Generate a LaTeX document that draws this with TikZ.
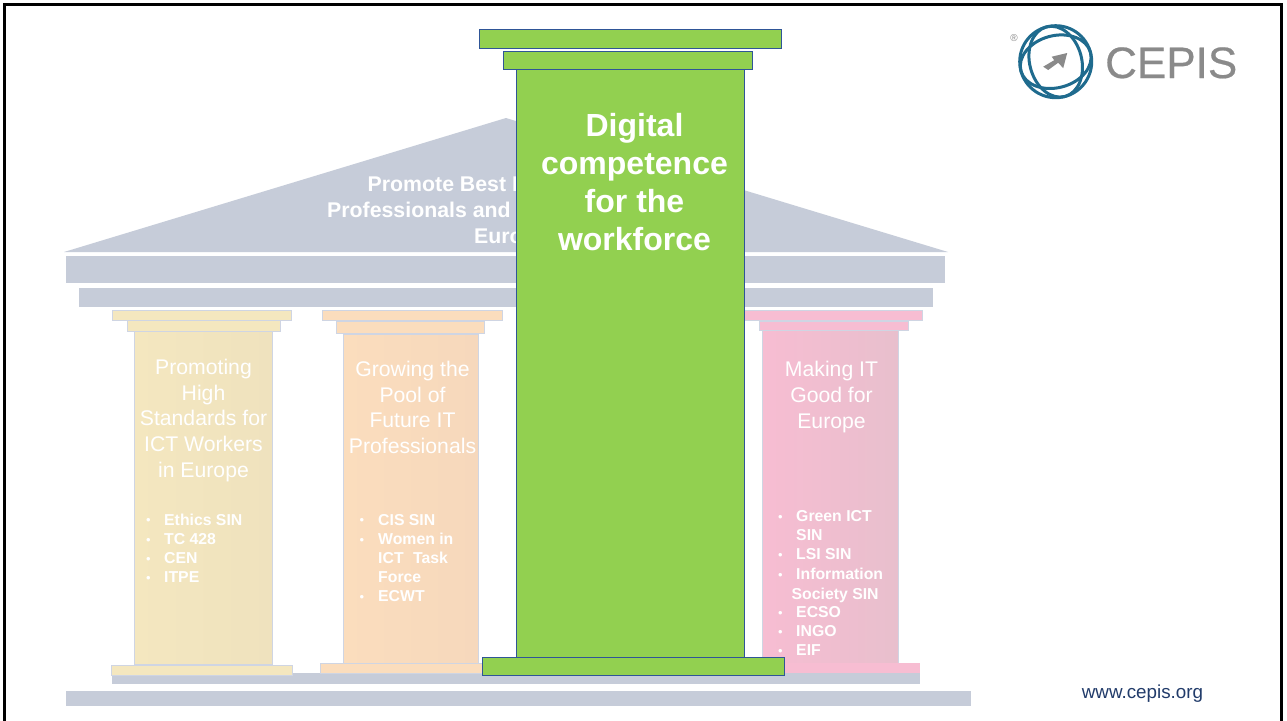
\documentclass[tikz,border=0pt]{standalone}
\usepackage{fontspec}
\setmainfont{Liberation Sans}
\newfontfamily\logofont[FakeBold=0.5]{Liberation Sans}
\definecolor{roofgray}{HTML}{C6CCD9}
\definecolor{edgeblue}{HTML}{CFD5E3}
\definecolor{leaf}{HTML}{92D050}
\definecolor{leafedge}{HTML}{2F5597}
\definecolor{globe}{HTML}{1F6B8E}
\definecolor{logogray}{HTML}{8A8A8A}
\definecolor{yelc}{HTML}{F4E7BF}
\definecolor{yeld}{HTML}{EFE2BE}
\definecolor{orc}{HTML}{FBDDBD}
\definecolor{ord}{HTML}{F6D8BC}
\definecolor{pkc}{HTML}{F7BDD2}
\definecolor{pkd}{HTML}{E8BFCD}
\tikzset{
  x=1pt,y=-1pt,
  roofpart/.style={fill=roofgray,draw=none},
  yelpart/.style={fill=yelc,draw=edgeblue,line width=1pt},
  orpart/.style={fill=orc,draw=edgeblue,line width=1pt},
  pkpart/.style={fill=pkc,draw=edgeblue,line width=1pt},
  greenpart/.style={fill=leaf,draw=leafedge,line width=1pt},
  ptitle/.style={text=white,align=center,font=\fontsize{21.2}{25.6}\selectfont,inner sep=0pt},
  plist/.style={text=white,align=left,anchor=north west,font=\fontsize{15.8}{19.1}\selectfont\bfseries,inner sep=0pt},
  rooftext/.style={text=white,font=\fontsize{21.3}{26}\selectfont\bfseries,inner sep=0pt},
  bullet/.style={text=white,font=\fontsize{13}{13}\selectfont,inner sep=0pt},
}
\begin{document}
\begin{tikzpicture}
\useasboundingbox (0,0) rectangle (1287,720);
\fill[white] (0,0) rectangle (1287,720);
% plinths
\path[roofpart] (66,691) rectangle (970.5,706);
\path[roofpart] (112,673) rectangle (920,684);
% roof
\path[roofpart] (64,252) -- (506,118) -- (948,252) -- cycle;
\path[roofpart] (66,256) rectangle (945,283);
\path[roofpart] (79,288) rectangle (933,307);
\node[rooftext,anchor=base west] (r1) at (367.5,191.5) {Promote Best P};
\node[rooftext,anchor=base west] (r2) at (327,217.5) {Professionals and};
\node[rooftext,anchor=base west] (r3) at (474,243) {Europe};
% pillar 1
\path[yelpart] (112,310) rectangle (291,320);
\path[yelpart] (127,320) rectangle (280,331);
\path[left color=yelc,right color=yeld,draw=edgeblue,line width=1pt] (134,331) rectangle (272,664);
\path[yelpart] (111,665) rectangle (292,675);
\node[ptitle] (t1) at (203.5,420.5) {Promoting\\High\\Standards for\\ICT Workers\\in Europe};
\node[plist] (l1) at (164,514) {Ethics SIN\\TC 428\\CEN\\ITPE};
\foreach \n/\y in {a/521,b/541,c/560,d/579}
  \node[bullet] (b1\n) at (148.5,\y) {•};
% pillar 2
\path[orpart] (322,310) rectangle (502,320);
\path[orpart] (336,321) rectangle (484,333);
\path[left color=orc,right color=ord,draw=edgeblue,line width=1pt] (343,334) rectangle (478,663);
\path[orpart] (320,663) rectangle (500,673);
\node[ptitle] (t2) at (412.5,407.5) {Growing the\\Pool of\\Future IT\\Professionals};
\node[plist] (l2) at (378,514) {CIS SIN\\Women in\\ICT\hspace{.6em}Task\\Force\\ECWT};
\foreach \n/\y in {a/521,b/541,c/598}
  \node[bullet] (b2\n) at (362,\y) {•};
% pillar 4
\path[pkpart] (740,310) rectangle (922,320);
\path[pkpart] (759,321) rectangle (908,330);
\path[left color=pkc,right color=pkd,draw=edgeblue,line width=1pt] (762,330) rectangle (898,663);
\path[fill=pkc,draw=none] (740,663) rectangle (920,673);
\node[ptitle] (t4) at (831.5,397) {Making IT\\Good for\\Europe};
\node[plist] (l4a) at (796,510.5) {Green ICT\\SIN\\LSI SIN\\Information};
\node[plist] (l4b) at (791.5,587.5) {Society SIN};
\node[plist] (l4c) at (796,606) {ECSO\\INGO\\EIF};
\foreach \n/\y in {a/518,b/556,c/576,d/614,e/633,f/652}
  \node[bullet] (b4\n) at (780.5,\y) {•};
% central pillar
\path[greenpart] (479,29) rectangle (781,48);
\path[greenpart] (503,51) rectangle (752,69);
\path[greenpart] (516.5,69) rectangle (744,657);
\path[greenpart] (482,657) rectangle (784,675);
\node[text=white,align=center,font=\fontsize{32}{38.2}\selectfont\bfseries,inner sep=0pt] (main) at (634.5,182) {Digital\\competence\\for the\\workforce};
% logo
\begin{scope}[globe,line width=3pt,shift={(1055.7,61.7)}]
  \draw circle (36);
  \draw[rotate=15] (0,0) ellipse (36 and 26);
  \draw[rotate=-75] (0,0) ellipse (36 and 26);
  \fill[logogray] (11.5,-8.7) -- (7.5,6.5) -- (2.5,1) -- (-7.5,8.3) -- (-12.5,5) -- (-1.5,-1.5) -- (-4,-5) -- cycle;
\end{scope}
\node[text=logogray,font=\logofont\fontsize{44}{44}\selectfont,inner sep=0pt,anchor=base west] (cepis) at (1105,78) {CEPIS};
\node[text=logogray,font=\fontsize{10}{10}\selectfont,inner sep=0pt] (reg) at (1014,38) {®};
\node[text=leafedge!70!black,font=\fontsize{18.8}{18.8}\selectfont,inner sep=0pt] (www) at (1142.5,694) {www.cepis.org};
% frame
\draw[black,line width=3pt] (4.5,730) -- (4.5,4.5) -- (1281.5,4.5) -- (1281.5,730);
\end{tikzpicture}
\end{document}
